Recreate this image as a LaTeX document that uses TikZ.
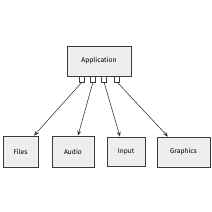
\documentclass[tikz,border=0pt]{standalone}
\usepackage{fontspec}
\setmainfont{Fira Sans}
\usetikzlibrary{arrows.meta, positioning, shadows}
\definecolor{boxgray}{RGB}{238, 238, 238}
\definecolor{linegray}{RGB}{60, 60, 60}

\begin{document}
\begin{tikzpicture}[x=1pt, y=-1pt,
  modbox/.style={draw=linegray, line width=0.7pt, fill=boxgray,
    drop shadow={shadow xshift=1.2pt, shadow yshift=-1.2pt, fill=black!30},
    inner sep=0pt, font=\fontsize{6.8}{8}\selectfont},
  link/.style={-{Stealth[length=5pt, width=4pt]}, draw=linegray, line width=0.6pt},
  socket/.style={draw=linegray, line width=0.5pt},
]
  % Canvas
  \useasboundingbox (0,0) rectangle (212,212);

  % Main box
  \node[modbox, minimum width=64pt, minimum height=30pt] (app) at (99,61) {Application};

  % Sub-system boxes
  \node[modbox, minimum width=35pt, minimum height=31pt] (files) at (20.5,151.5) {Files};
  \node[modbox, minimum width=42pt, minimum height=31pt] (audio) at (73,151.5) {Audio};
  \node[modbox, minimum width=38pt, minimum height=29pt] (input) at (126,151.5) {Input};
  \node[modbox, minimum width=53pt, minimum height=30pt] (graphics) at (183.5,152) {Graphics};

  % Sockets under the main box
  \foreach \i/\x in {1/82, 2/93, 3/104, 4/117} {
    \draw[socket] (\x-2.5,76) -- (\x-2.5,82) -- (\x+2.5,82) -- (\x+2.5,76);
    \coordinate (p\i) at (\x,82);
  }

  % Connectors
  \draw[link] (p1) -- (files.north -| 34,0);
  \draw[link] (p2) -- (audio.north -| 78,0);
  \draw[link] (p3) -- (input.north -| 120,0);
  \draw[link] (p4) -- (graphics.north -| 168,0);

\end{tikzpicture}
\end{document}
